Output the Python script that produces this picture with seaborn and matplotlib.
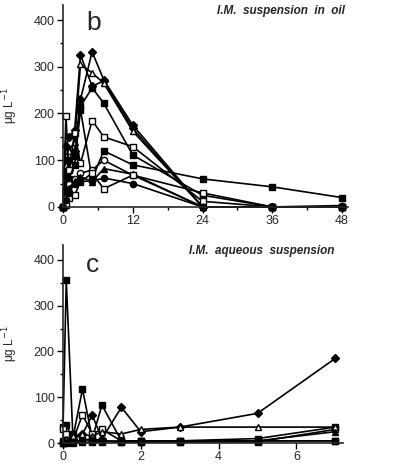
import numpy as np
import matplotlib
matplotlib.use("Agg")
import matplotlib.pyplot as plt
from matplotlib.ticker import MultipleLocator
import seaborn as sns

# --- data ---
# panel b: I.M. suspension in oil (hours)
oil_t = [0, 0.5, 1, 2, 3, 5, 7, 12, 24, 36, 48]
oil_series = {
    "D1": [0, 40, 80, 120, 230, 332, 272, 175, 0, 0, 0],
    "D2": [0, 130, 150, 165, 326, 258, 270, 168, 0, 0, 0],
    "T1": [0, 90, 120, 140, 305, 287, 265, 162, 0, 0, 0],
    "S1": [0, 70, 100, 110, 215, 255, 222, 111, 25, 0, 0],
    "O1": [0, 195, 80, 158, 93, 185, 150, 129, 12, 0, 0],
    "S2": [0, 30, 60, 90, 208, 60, 120, 90, 60, 43, 20],
    "C1": [0, 20, 50, 60, 72, 79, 100, 68, 0, 0, 0],
    "T2": [0, 10, 40, 55, 65, 54, 82, 70, 0, 0, 0],
    "O2": [0, 5, 20, 25, 54, 72, 39, 68, 30, 0, 0],
    "S3": [0, 15, 30, 50, 55, 55, 62, 50, 0, 0, 3],
}
oil_markers = {"D1": "D", "D2": "D", "T1": "^", "S1": "s", "O1": "s",
               "S2": "s", "C1": "o", "T2": "^", "O2": "s", "S3": "o"}
oil_open = {"T1", "O1", "C1", "O2"}

# panel c: I.M. aqueous suspension (hours)
aq_t = [0, 0.083, 0.25, 0.5, 0.75, 1, 1.5, 2, 3, 5, 7]
aq_series = {
    "B1": [35, 355, 20, 10, 5, 5, 3, 3, 5, 5, 5],
    "B2": [5, 40, 10, 118, 10, 83, 5, 5, 5, 10, 35],
    "B3": [30, 20, 5, 62, 20, 30, 5, 5, 3, 3, 30],
    "B4": [0, 5, 10, 20, 61, 10, 78, 25, 35, 65, 185],
    "B5": [5, 10, 15, 20, 15, 25, 20, 30, 35, 35, 35],
    "B6": [0, 0, 0, 2, 2, 3, 5, 5, 5, 5, 5],
    "B7": [0, 2, 5, 5, 10, 5, 3, 3, 3, 5, 25],
}
aq_markers = {"B1": "s", "B2": "s", "B3": "s", "B4": "D", "B5": "^",
              "B6": "s", "B7": "^"}
aq_open = {"B3", "B5"}

sns.set_style("ticks")
plt.rcParams['font.family'] = ['Liberation Sans', 'DejaVu Sans']

fig = plt.figure(figsize=(3.94, 4.65), dpi=100)
ax_b = fig.add_axes([0.160, 0.555, 0.723, 0.434])
ax_c = fig.add_axes([0.160, 0.047, 0.711, 0.426])


def draw_panel(ax, t, series, markers, open_set):
    for name, vals in series.items():
        face = "white" if name in open_set else "black"
        size = 3.8 if markers[name] == "D" else 4.5
        sns.lineplot(x=t, y=vals, ax=ax, color="black", lw=1.2,
                     marker=markers[name], markersize=size,
                     markerfacecolor=face, markeredgecolor="black",
                     markeredgewidth=1.0, clip_on=False, sort=False,
                     estimator=None)


draw_panel(ax_b, oil_t, oil_series, oil_markers, oil_open)
draw_panel(ax_c, aq_t, aq_series, aq_markers, aq_open)

for ax in (ax_b, ax_c):
    sns.despine(ax=ax)
    ax.set_ylim(0, 432)
    ax.yaxis.set_major_locator(MultipleLocator(100))
    ax.yaxis.set_minor_locator(MultipleLocator(50))
    ax.tick_params(axis="both", which="major", length=4, width=1,
                   labelsize=9, color="black", pad=2)
    ax.tick_params(axis="both", which="minor", length=2.5, width=1,
                   color="black")
    ax.spines["left"].set_linewidth(1.2)
    ax.spines["bottom"].set_linewidth(1.2)
    ax.set_ylabel("μg L$^{-1}$", fontsize=8.5, labelpad=10)
    ax.set_xlabel("")

ax_b.set_xlim(0, 49)
ax_b.xaxis.set_major_locator(MultipleLocator(12))
ax_b.xaxis.set_minor_locator(MultipleLocator(6))
ax_c.set_xlim(0, 7.2)
ax_c.xaxis.set_major_locator(MultipleLocator(2))

ax_b.text(0.08, 0.97, "b", transform=ax_b.transAxes, fontsize=19,
          va="top", ha="left")
ax_b.text(0.99, 1.0, "I.M.  suspension  in  oil", transform=ax_b.transAxes,
          fontsize=8.5, fontweight="bold", style="italic", ha="right", va="top")
ax_c.text(0.08, 0.96, "c", transform=ax_c.transAxes, fontsize=19,
          va="top", ha="left")
ax_c.text(0.97, 1.0, "I.M.  aqueous  suspension", transform=ax_c.transAxes,
          fontsize=8.5, fontweight="bold", style="italic", ha="right", va="top")

fig.savefig("out.png", dpi=100)
